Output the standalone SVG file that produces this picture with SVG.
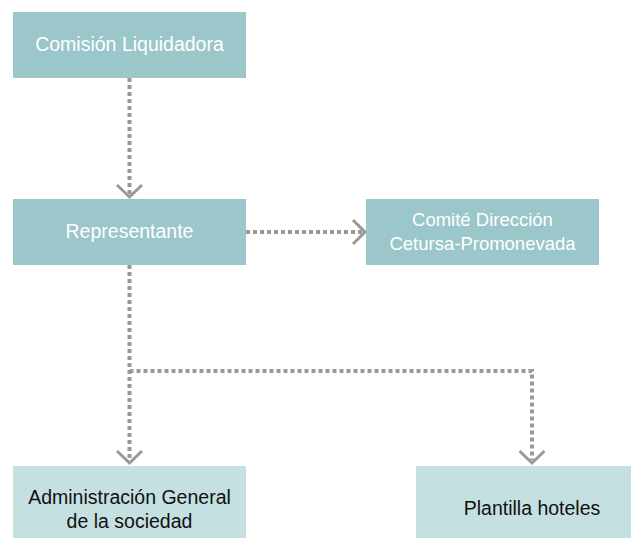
<svg xmlns="http://www.w3.org/2000/svg" width="631" height="538" viewBox="0 0 631 538">
<style>
.top{fill:#9bc6ca}
.bot{fill:#c5e0e0}
.tw{fill:#ffffff;font-family:"Liberation Sans",Arial,sans-serif;font-size:19.5px;text-anchor:middle}
.sm{font-size:18.5px}
.tb{fill:#111111;font-family:"Liberation Sans",Arial,sans-serif;font-size:19.5px;text-anchor:middle}
.dot{fill:none;stroke:#999999;stroke-width:4;stroke-dasharray:4 3}
.chev{fill:none;stroke:#999999;stroke-width:3}
</style>
<rect width="631" height="538" fill="#ffffff"/>
<g id="connectors">
<line class="dot" x1="129.5" y1="78" x2="129.5" y2="196"/>
<polyline class="chev" points="117,185 129.5,197 142,185"/>
<line class="dot" x1="246" y1="232" x2="362" y2="232"/>
<polyline class="chev" points="353,220 365,232 353,244"/>
<line class="dot" x1="129.5" y1="265" x2="129.5" y2="460"/>
<polyline class="dot" points="129.5,371 532,371 532,460"/>
<polyline class="chev" points="117,451 129.5,463 142,451"/>
<polyline class="chev" points="519.5,451 532,463 544.5,451"/>
</g>
<g id="n1">
<rect class="top" x="13" y="12" width="233" height="66"/>
<text class="tw" x="129.5" y="51">Comisión Liquidadora</text>
</g>
<g id="n2">
<rect class="top" x="13" y="199" width="233" height="66"/>
<text class="tw" x="129.5" y="238">Representante</text>
</g>
<g id="n3">
<rect class="top" x="366" y="199" width="233" height="66"/>
<text class="tw sm" x="482.5" y="226">Comité Dirección</text>
<text class="tw sm" x="482.5" y="250">Cetursa-Promonevada</text>
</g>
<g id="n4">
<rect class="bot" x="13" y="466" width="233" height="72"/>
<text class="tb" x="129.5" y="504">Administración General</text>
<text class="tb" x="129.5" y="528">de la sociedad</text>
</g>
<g id="n5">
<rect class="bot" x="416" y="466" width="215" height="72"/>
<text class="tb" x="532" y="515">Plantilla hoteles</text>
</g>
</svg>
